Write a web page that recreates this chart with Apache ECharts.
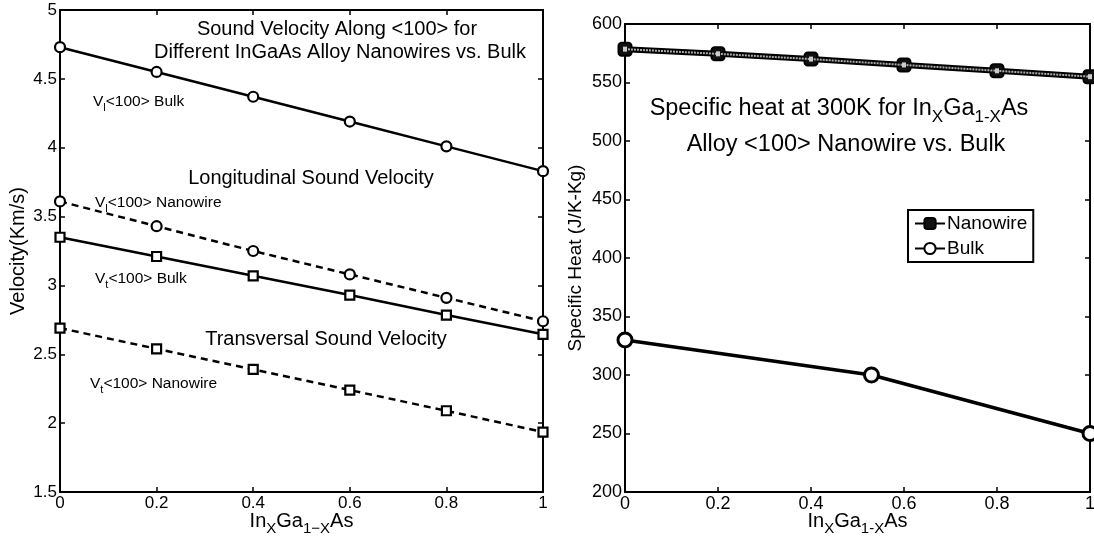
<!DOCTYPE html>
<html><head><meta charset="utf-8">
<script src="https://cdn.jsdelivr.net/npm/echarts@6/dist/echarts.min.js"></script>
<style>html,body{margin:0;padding:0;background:#fff}#c{width:1094px;height:542px}</style>
</head><body><div id="c"></div>
<script>
// ---- data ----
const xLeft = [0, 0.2, 0.4, 0.6, 0.8, 1];
const vlBulk = [4.73, 4.55, 4.37, 4.19, 4.01, 3.83];
const vlNano = [3.61, 3.43, 3.25, 3.08, 2.91, 2.74];
const vtBulk = [3.35, 3.21, 3.07, 2.93, 2.785, 2.645];
const vtNano = [2.69, 2.54, 2.39, 2.24, 2.09, 1.935];
const xNano = [0, 0.2, 0.4, 0.6, 0.8, 1];
const cpNano = [578.5, 574.5, 570, 565, 560, 555];
const xBulk = [0, 0.53, 1];
const cpBulk = [330, 300, 250];
const legendNames = ['Nanowire', 'Bulk'];

const FONT = 'Liberation Sans, Arial, Helvetica, sans-serif';
const zip = (xs, ys) => xs.map((x, i) => [x, ys[i]]);

const axisCommon = (fs, showLabel) => ({
  type: 'value',
  axisLine: { show: true, onZero: false, lineStyle: { color: '#000', width: 2 } },
  axisTick: { show: true, inside: true, length: 5, lineStyle: { color: '#000', width: 1.5 } },
  axisLabel: { show: showLabel, color: '#000', fontSize: fs, fontFamily: FONT, margin: 3 },
  splitLine: { show: false }
});

function xAx(grid, fs, pos, showLabel, name) {
  const a = Object.assign(axisCommon(fs, showLabel), { gridIndex: grid, min: 0, max: 1, interval: 0.2, position: pos });
  if (name) {
    a.name = name; a.nameLocation = 'middle'; a.nameGap = 15; a.nameMoveOverlap = false;
    a.nameTextStyle = { rich: {
      a: { fontSize: 20, fontFamily: FONT, color: '#000' },
      s: { fontSize: 15, fontFamily: FONT, color: '#000', padding: [14, 0, 0, 0] }
    } };
  }
  return a;
}
function yAx(grid, fs, pos, showLabel, min, max, iv, name, gap, nfs) {
  const a = Object.assign(axisCommon(fs, showLabel), { gridIndex: grid, min: min, max: max, interval: iv, position: pos });
  if (name) {
    a.name = name; a.nameLocation = 'middle'; a.nameGap = gap; a.nameMoveOverlap = false;
    a.nameTextStyle = { fontSize: nfs, fontFamily: FONT, color: '#000' };
  }
  return a;
}

const xName = '{a|In}{s|X}{a|Ga}{s|1−X}{a|As}';
const xNameR = '{a|In}{s|X}{a|Ga}{s|1-X}{a|As}';

const leftLine = (name, data, sym, size, dashed) => ({
  name: name, type: 'line', xAxisIndex: 0, yAxisIndex: 0, data: data,
  symbol: sym, symbolSize: size, clip: false,
  lineStyle: { color: '#000', width: 2.5, type: dashed ? [7, 5] : 'solid' },
  itemStyle: { color: '#fff', borderColor: '#000', borderWidth: 2.2 },
  emphasis: { disabled: true }, z: 3
});

const option = {
  animation: false,
  backgroundColor: '#fff',
  grid: [
    { left: 60, right: 551, top: 10, bottom: 50, containLabel: false, outerBoundsMode: 'none' },
    { left: 625, right: 4, top: 24, bottom: 50, containLabel: false, outerBoundsMode: 'none' }
  ],
  xAxis: [
    xAx(0, 17, 'bottom', true, xName),
    xAx(0, 17, 'top', false),
    xAx(1, 18, 'bottom', true, xNameR),
    xAx(1, 18, 'top', false)
  ],
  yAxis: [
    yAx(0, 17, 'left', true, 1.5, 5, 0.5, 'Velocity(Km/s)', 32, 20),
    yAx(0, 17, 'right', false, 1.5, 5, 0.5),
    yAx(1, 18, 'left', true, 200, 600, 50, 'Specific Heat (J/K-Kg)', 40, 19),
    yAx(1, 18, 'right', false, 200, 600, 50)
  ],
  legend: {
    data: legendNames,
    orient: 'vertical',
    left: 908, top: 210,
    padding: [4, 6, 4, 6],
    itemWidth: 30, itemHeight: 14, itemGap: 6,
    borderColor: '#000', borderWidth: 2,
    backgroundColor: '#fff',
    textStyle: { fontSize: 19, fontFamily: FONT, color: '#000', padding: [0, 0, 0, -3] }
  },
  series: [
    leftLine('Vl Bulk', zip(xLeft, vlBulk), 'circle', 10, false),
    leftLine('Vl Nanowire', zip(xLeft, vlNano), 'circle', 10, true),
    leftLine('Vt Bulk', zip(xLeft, vtBulk), 'rect', 9, false),
    leftLine('Vt Nanowire', zip(xLeft, vtNano), 'rect', 9, true),
    {
      name: 'Nanowire', type: 'line', xAxisIndex: 2, yAxisIndex: 2, data: zip(xNano, cpNano),
      symbol: 'roundRect', symbolSize: 13, clip: false,
      lineStyle: { color: '#000', width: 6 },
      itemStyle: { color: '#111', borderColor: '#000', borderWidth: 2 },
      emphasis: { disabled: true }, z: 3
    },
    {
      name: 'Nanowire core', type: 'line', xAxisIndex: 2, yAxisIndex: 2, data: zip(xNano, cpNano),
      symbol: 'rect', symbolSize: [4, 5], clip: false,
      lineStyle: { color: '#aaa', width: 2, type: [2, 1] },
      itemStyle: { color: '#ccc', borderWidth: 0 },
      emphasis: { disabled: true }, z: 4, silent: true
    },
    {
      name: 'Bulk', type: 'line', xAxisIndex: 2, yAxisIndex: 2, data: zip(xBulk, cpBulk),
      symbol: 'circle', symbolSize: 14, clip: false,
      lineStyle: { color: '#000', width: 3.5 },
      itemStyle: { color: '#fff', borderColor: '#000', borderWidth: 3 },
      emphasis: { disabled: true }, z: 3
    }
  ],
  graphic: []
};

function txt(x, y, text, align, rich, font) {
  return {
    type: 'text', x: x, y: y, z: 10, silent: true,
    style: Object.assign({ text: text, align: align, verticalAlign: 'middle', fill: '#000', rich: rich }, font || {})
  };
}
const smallRich = {
  a: { fontSize: 15.5, fontFamily: FONT, fill: '#000' },
  s: { fontSize: 11, fontFamily: FONT, fill: '#000', padding: [11, 0, 0, 0] }
};
const bigStyle = { fontSize: 20, fontFamily: FONT };
const rTitleRich = {
  a: { fontSize: 23.5, fontFamily: FONT, fill: '#000' },
  s: { fontSize: 17, fontFamily: FONT, fill: '#000', padding: [16, 0, 0, 0] }
};

option.graphic = [
  txt(337, 29, 'Sound Velocity Along <100> for', 'center', null, bigStyle),
  txt(340, 52, 'Different InGaAs Alloy Nanowires vs. Bulk', 'center', null, bigStyle),
  txt(311, 178, 'Longitudinal Sound Velocity', 'center', null, bigStyle),
  txt(326, 339, 'Transversal Sound Velocity', 'center', null, bigStyle),
  txt(93, 102, '{a|V}{s|l}{a|<100> Bulk}', 'left', smallRich),
  txt(95, 203, '{a|V}{s|l}{a|<100> Nanowire}', 'left', smallRich),
  txt(95, 279, '{a|V}{s|t}{a|<100> Bulk}', 'left', smallRich),
  txt(90, 384, '{a|V}{s|t}{a|<100> Nanowire}', 'left', smallRich),
  txt(839, 109, '{a|Specific heat at 300K for In}{s|X}{a|Ga}{s|1-X}{a|As}', 'center', rTitleRich),
  txt(846, 145, 'Alloy <100> Nanowire vs. Bulk', 'center', null, { fontSize: 23.5, fontFamily: FONT })
];

const chart = echarts.init(document.getElementById('c'), null, { renderer: 'canvas' });
chart.setOption(option);
</script>
</body></html>
